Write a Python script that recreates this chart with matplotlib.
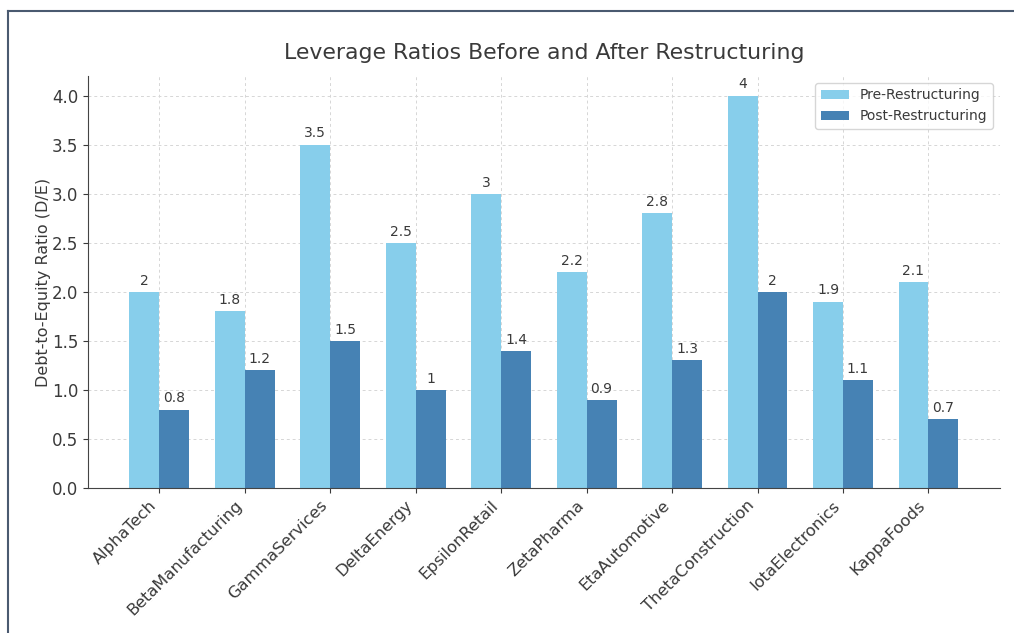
import matplotlib.pyplot as plt
import numpy as np
from matplotlib.lines import Line2D

# data
companies = ['AlphaTech', 'BetaManufacturing', 'GammaServices', 'DeltaEnergy', 'EpsilonRetail',
             'ZetaPharma', 'EtaAutomotive', 'ThetaConstruction', 'IotaElectronics', 'KappaFoods']
pre_de = [2, 1.8, 3.5, 2.5, 3, 2.2, 2.8, 4, 1.9, 2.1]
post_de = [0.8, 1.2, 1.5, 1, 1.4, 0.9, 1.3, 2, 1.1, 0.7]

text_col = '#3a3a3a'
plt.rcParams['text.color'] = text_col
plt.rcParams['axes.labelcolor'] = text_col
plt.rcParams['xtick.color'] = text_col
plt.rcParams['ytick.color'] = text_col

fig = plt.figure(figsize=(10.14, 6.33), dpi=100)
ax = fig.add_axes([0.0868, 0.229, 0.8992, 0.651])

x = np.arange(len(companies))
w = 0.35
b1 = ax.bar(x - w/2, pre_de, w, color='skyblue', label='Pre-Restructuring')
b2 = ax.bar(x + w/2, post_de, w, color='steelblue', label='Post-Restructuring')

# value labels on top of bars
for bars, vals in [(b1, pre_de), (b2, post_de)]:
    for b, v in zip(bars, vals):
        ax.annotate(f'{v:g}', (b.get_x() + b.get_width()/2, b.get_height()),
                    xytext=(0, 3), textcoords='offset points',
                    ha='center', va='bottom', fontsize=10)

ax.set_title('Leverage Ratios Before and After Restructuring', fontsize=15.8, pad=12)
ax.set_ylabel('Debt-to-Equity Ratio (D/E)', fontsize=11.5, labelpad=1)
ax.set_xticks(x)
ax.set_xticklabels(companies, rotation=45, ha='right', fontsize=11.7)
ax.tick_params(axis='y', labelsize=12)
ax.grid(True, linestyle=(0, (3, 3)), color='#d6d6d6', linewidth=0.7)
ax.set_axisbelow(True)
for s in ['top', 'right']:
    ax.spines[s].set_visible(False)
for s in ['left', 'bottom']:
    ax.spines[s].set_color('#444444')
ax.legend(loc='upper right', fontsize=10)

# screenshot frame (left and top edge)
fig.add_artist(Line2D([8/1014, 8/1014], [0, 1 - 11/633], transform=fig.transFigure,
                      color='#4a5a70', linewidth=1.5))
fig.add_artist(Line2D([8/1014, 1], [1 - 11/633, 1 - 11/633], transform=fig.transFigure,
                      color='#4a5a70', linewidth=1.5))

fig.savefig('out.png', dpi=100)
